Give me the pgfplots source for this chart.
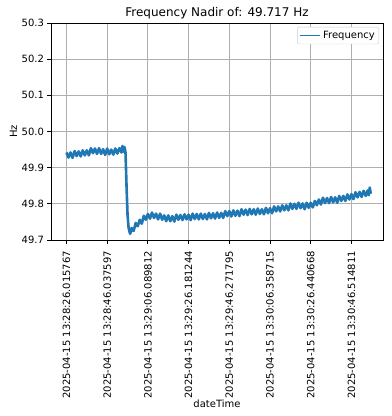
\documentclass[border=0pt]{standalone}
\usepackage{fontspec}
\setmainfont{DejaVu Sans}
\usepackage{pgfplots}
\pgfplotsset{compat=1.18}
\definecolor{mplblue}{HTML}{1F77B4}
\definecolor{gridgray}{HTML}{B0B0B0}
\definecolor{legframe}{HTML}{CCCCCC}
\pgfplotstableread{
t f
0 49.942
1 49.928
2 49.942
3 49.927
4 49.946
5 49.932
6 49.945
7 49.931
8 49.948
9 49.934
10 49.948
11 49.934
12 49.954
13 49.940
14 49.953
15 49.938
16 49.954
17 49.938
18 49.951
19 49.935
20 49.953
21 49.937
22 49.950
23 49.936
24 49.953
25 49.939
26 49.954
27 49.942
27.5 49.960
28 49.944
28.5 49.957
29 49.942
29.5 49.850
30 49.770
30.5 49.735
31 49.722
31.3 49.717
32 49.733
33 49.725
34 49.747
35 49.738
36 49.756
37 49.745
38 49.767
39 49.756
40 49.772
41 49.759
42 49.776
43 49.761
44 49.773
45 49.757
46 49.773
47 49.756
48 49.768
49 49.752
50 49.768
51 49.752
52 49.766
53 49.751
54 49.770
55 49.756
56 49.769
57 49.755
58 49.771
59 49.757
60 49.770
61 49.755
62 49.773
63 49.758
64 49.772
65 49.757
66 49.773
67 49.758
68 49.772
69 49.757
70 49.775
71 49.760
72 49.774
73 49.759
74 49.776
75 49.761
76 49.775
77 49.761
78 49.780
79 49.766
80 49.780
81 49.765
82 49.782
83 49.767
84 49.781
85 49.766
86 49.785
87 49.770
88 49.784
89 49.769
90 49.786
91 49.771
92 49.785
93 49.770
94 49.787
95 49.772
96 49.785
97 49.771
98 49.789
99 49.774
100 49.788
101 49.774
102 49.793
103 49.779
104 49.793
105 49.779
106 49.796
107 49.782
108 49.796
109 49.782
110 49.801
111 49.786
112 49.800
113 49.786
114 49.803
115 49.788
116 49.801
117 49.785
118 49.803
119 49.789
120 49.803
121 49.790
122 49.808
123 49.796
124 49.812
125 49.798
126 49.817
127 49.802
128 49.816
129 49.802
130 49.819
131 49.804
132 49.818
133 49.803
134 49.822
135 49.808
136 49.822
137 49.808
138 49.826
139 49.812
140 49.827
141 49.813
142 49.832
143 49.818
144 49.833
145 49.819
146 49.836
147 49.822
148 49.837
148.5 49.824
149 49.845
149.5 49.828
}\freqdata
\begin{document}
\fontsize{10}{12}\selectfont
\begin{tikzpicture}
\begin{axis}[
  scale only axis,
  width=332pt, height=217pt,
  xmin=-7.6, xmax=155.5,
  ymin=49.7, ymax=50.3,
  xtick={0,20,40,60,80,100,120,140},
  xticklabels={2025-04-15 13:28:26.015767,2025-04-15 13:28:46.037597,2025-04-15 13:29:06.089812,2025-04-15 13:29:26.181244,2025-04-15 13:29:46.271795,2025-04-15 13:30:06.358715,2025-04-15 13:30:26.440668,2025-04-15 13:30:46.514811},
  ytick={49.7,49.8,49.9,50.0,50.1,50.2,50.3},
  yticklabel style={/pgf/number format/fixed, /pgf/number format/fixed zerofill, /pgf/number format/precision=1},
  /pgf/number format/assume math mode=true,
  xticklabel style={rotate=90, anchor=east, xshift=-4pt, font=\fontsize{10}{12}\selectfont},
  yticklabel style={font=\fontsize{10}{12}\selectfont},
  tick align=outside,
  major tick length=3.5pt,
  tick style={black, line width=0.8pt},
  axis line style={line width=0.8pt},
  grid=major,
  major grid style={gridgray, line width=0.8pt},
  xtick pos=bottom, ytick pos=left,
  xlabel={dateTime},
  ylabel={Hz},
  label style={font=\fontsize{10}{12}\selectfont},
  xlabel style={at={(rel axis cs:0.5,0)}, anchor=base, yshift=-167pt},
  ylabel style={at={(rel axis cs:0,0.5)}, anchor=center, yshift=37.5pt},
  title={Frequency Nadir of: 49.717 Hz},
  title style={font=\fontsize{12}{14}\selectfont, at={(rel axis cs:0.5,1)}, anchor=base},
  legend style={at={(rel axis cs:1,1)}, anchor=north east, xshift=-4pt, yshift=-4pt,
    draw=legframe, rounded corners=2pt, fill=white,
    nodes={fill=none, draw=none},
    font=\fontsize{10}{12}\selectfont, inner xsep=2pt, inner ysep=2pt},
  legend cell align=left,
]
\addplot[mplblue, line width=2.6pt, line join=round,
  legend image code/.code={\draw[draw=mplblue, line width=1.8pt] (0pt,0pt) -- (20pt,0pt);}]
  table[x=t, y=f] {\freqdata};
\addlegendentry{Frequency}
\coordinate (bl) at (rel axis cs:0,0);
\coordinate (tr) at (rel axis cs:1,1);
\end{axis}
\pgfresetboundingbox
\path ([shift={(-51pt,-176pt)}]bl) rectangle ([shift={(9pt,23pt)}]tr);
\end{tikzpicture}
\end{document}
